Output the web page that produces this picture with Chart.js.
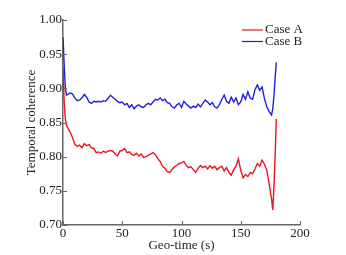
<!DOCTYPE html>
<html lang="en">
<head>
  <meta charset="UTF-8" />
  <title>Temporal coherence</title>
  <script src="https://cdn.jsdelivr.net/npm/chart.js"></script>
  <style>
    body { margin: 0; background: #fff; }
    #wrap { width: 346px; height: 255px; }
  </style>
</head>
<body>
  <div id="wrap"><canvas id="cohChart" width="346" height="255"></canvas></div>
  <script>
    const times = [0, 1, 2, 3, 4, 6, 8, 10, 12, 14, 16, 18, 20, 22, 24, 26, 28, 30, 32, 34, 36, 38, 40,
      42, 44, 46, 48, 50, 52, 54, 56, 58, 60, 62, 64, 66, 68, 70, 72, 74, 76, 78, 80,
      82, 84, 86, 88, 90, 92, 94, 96, 98, 100, 102, 104, 106, 108, 110, 112, 114, 116, 118, 120,
      122, 124, 126, 128, 130, 132, 134, 136, 138, 140, 142, 144, 146, 148, 150, 152, 154, 156, 158, 160,
      162, 164, 166, 168, 170, 172, 174, 176, 177, 178, 179, 180];

    const caseB = [0.975, 0.935, 0.900, 0.890, 0.891, 0.893, 0.892, 0.886, 0.882, 0.883, 0.886, 0.891, 0.887, 0.880, 0.878, 0.881, 0.880, 0.881, 0.880, 0.882, 0.881, 0.885, 0.890,
      0.887, 0.884, 0.881, 0.879, 0.880, 0.876, 0.878, 0.872, 0.876, 0.870, 0.874, 0.876, 0.873, 0.872, 0.876, 0.878, 0.876, 0.880, 0.884, 0.883,
      0.886, 0.882, 0.884, 0.879, 0.878, 0.873, 0.871, 0.876, 0.878, 0.872, 0.881, 0.877, 0.874, 0.871, 0.874, 0.872, 0.877, 0.873, 0.878, 0.883,
      0.880, 0.876, 0.879, 0.873, 0.871, 0.876, 0.884, 0.890, 0.881, 0.878, 0.887, 0.880, 0.886, 0.876, 0.880, 0.891, 0.884, 0.895, 0.886, 0.884,
      0.898, 0.905, 0.897, 0.902, 0.885, 0.873, 0.866, 0.861, 0.870, 0.888, 0.915, 0.938];

    const caseA = [0.930, 0.880, 0.855, 0.846, 0.842, 0.836, 0.828, 0.818, 0.815, 0.817, 0.813, 0.819, 0.816, 0.818, 0.813, 0.812, 0.806, 0.807, 0.805, 0.808, 0.806, 0.808, 0.809,
      0.808, 0.804, 0.801, 0.808, 0.809, 0.812, 0.806, 0.807, 0.803, 0.802, 0.805, 0.801, 0.804, 0.799, 0.800, 0.802, 0.804, 0.806, 0.803, 0.797,
      0.793, 0.786, 0.783, 0.778, 0.777, 0.781, 0.785, 0.787, 0.790, 0.791, 0.793, 0.787, 0.784, 0.785, 0.781, 0.777, 0.783, 0.787, 0.784, 0.786,
      0.782, 0.787, 0.783, 0.786, 0.781, 0.784, 0.786, 0.779, 0.784, 0.777, 0.773, 0.781, 0.786, 0.797, 0.780, 0.769, 0.774, 0.771, 0.777, 0.775,
      0.782, 0.790, 0.786, 0.795, 0.789, 0.780, 0.760, 0.738, 0.722, 0.755, 0.800, 0.855];

    const xTicks = [0, 50, 100, 150, 200];
    const yTicks = [0.70, 0.75, 0.80, 0.85, 0.90, 0.95, 1.00];

    const serif = '"Liberation Serif", "Times New Roman", serif';
    const axisColor = '#666';

    function toPoints(vals) {
      return times.map((t, i) => ({ x: t, y: vals[i] }));
    }

    // inward tick marks + legend inside the plot
    const extras = {
      id: 'extras',
      afterDraw(chart) {
        const { ctx, chartArea, scales } = chart;
        ctx.save();
        ctx.strokeStyle = axisColor;
        ctx.lineWidth = 1;
        yTicks.forEach(v => {
          const y = Math.round(scales.y.getPixelForValue(v)) + 0.5;
          ctx.beginPath();
          ctx.moveTo(chartArea.left, y);
          ctx.lineTo(chartArea.left + 4, y);
          ctx.stroke();
        });
        xTicks.forEach(v => {
          const x = Math.round(scales.x.getPixelForValue(v)) + 0.5;
          ctx.beginPath();
          ctx.moveTo(x, chartArea.bottom);
          ctx.lineTo(x, chartArea.bottom - 4);
          ctx.stroke();
        });

        ctx.font = '13px ' + serif;
        ctx.textBaseline = 'middle';
        ctx.textAlign = 'left';
        chart.data.datasets.forEach((ds, i) => {
          const y = 30 + i * 11.5;
          ctx.strokeStyle = ds.borderColor;
          ctx.lineWidth = 1.2;
          ctx.beginPath();
          ctx.moveTo(242, y);
          ctx.lineTo(263, y);
          ctx.stroke();
          ctx.fillStyle = '#222';
          ctx.fillText(ds.label, 265, y);
        });
        ctx.restore();
      }
    };

    new Chart(document.getElementById('cohChart'), {
      type: 'line',
      data: {
        datasets: [
          { label: 'Case A', data: toPoints(caseA), borderColor: 'rgb(232,22,30)', borderWidth: 1.4, pointRadius: 0, tension: 0 },
          { label: 'Case B', data: toPoints(caseB), borderColor: 'rgb(32,32,222)', borderWidth: 1.4, pointRadius: 0, tension: 0 }
        ]
      },
      options: {
        responsive: false,
        animation: false,
        layout: { padding: { top: 20, right: 46, left: 0, bottom: 0 } },
        plugins: { legend: { display: false }, tooltip: { enabled: false } },
        scales: {
          x: {
            type: 'linear',
            min: 0,
            max: 200,
            afterFit(s) { s.height = 30; },
            afterBuildTicks(s) { s.ticks = xTicks.map(v => ({ value: v })); },
            grid: { display: false, drawTicks: false },
            border: { display: true, color: axisColor, width: 1.5 },
            ticks: { color: '#222', padding: 1, maxRotation: 0, font: { family: serif, size: 13 } },
            title: { display: true, text: 'Geo-time (s)', color: '#222', padding: { top: 0, bottom: 2 }, font: { family: serif, size: 13 } }
          },
          y: {
            min: 0.70,
            max: 1.00,
            afterFit(s) { s.width = 63; },
            afterBuildTicks(s) { s.ticks = yTicks.map(v => ({ value: v })); },
            grid: { display: false, drawTicks: false },
            border: { display: true, color: axisColor, width: 1.5 },
            ticks: { color: '#222', padding: 1, font: { family: serif, size: 13 }, callback: v => v.toFixed(2) },
            title: { display: true, text: 'Temporal coherence', color: '#222', padding: { top: 24, bottom: 0 }, font: { family: serif, size: 13 } }
          }
        }
      },
      plugins: [extras]
    });
  </script>
</body>
</html>
